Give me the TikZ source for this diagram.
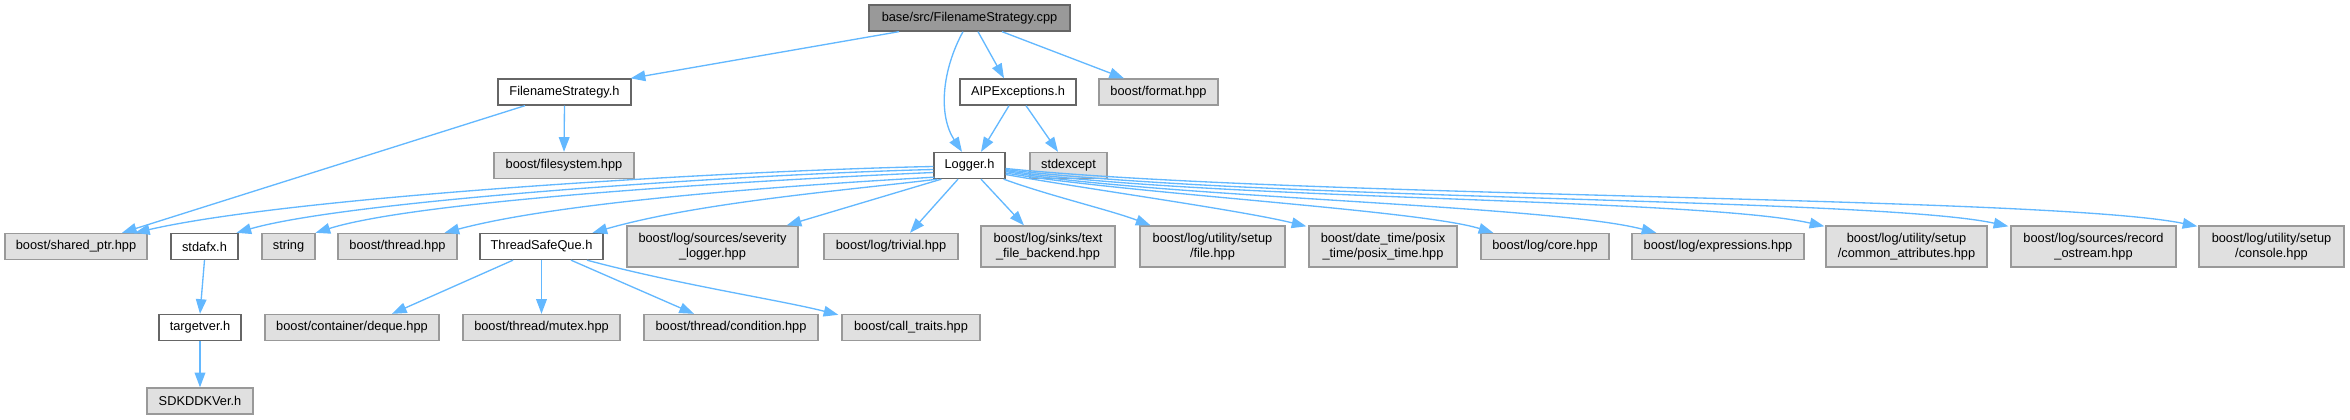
\documentclass[tikz,border=0pt]{standalone}
\usepackage{fontspec}
\setmainfont{Liberation Sans}
\usetikzlibrary{arrows.meta,calc}
\definecolor{edgec}{HTML}{63B8FF}
\definecolor{extfill}{HTML}{E0E0E0}
\definecolor{extdraw}{HTML}{999999}
\definecolor{intdraw}{HTML}{666666}
\definecolor{rootfill}{HTML}{999999}
\begin{document}
\begin{tikzpicture}[x=0.75pt,y=-0.75pt,
 box/.style={draw, line width=1pt, inner sep=0pt, align=center, font=\fontsize{9.6}{11.25}\selectfont, minimum height=19.5pt},
 ext/.style={box, draw=extdraw, fill=extfill},
 int/.style={box, draw=intdraw, fill=white},
 rootbox/.style={box, draw=intdraw, fill=rootfill},
 two/.style={minimum height=30.75pt},
 dep/.style={draw=edgec, line width=1pt, -{Triangle[length=11pt,width=8pt]}}]
\useasboundingbox (0,0) rectangle (2350,420);
% row 0
\node[rootbox, minimum width=150.75pt] (root) at (969.5,18) {base/src/FilenameStrategy.cpp};
% row 1
\node[int, minimum width=99.75pt] (fsh) at (564.5,92) {FilenameStrategy.h};
\node[int, minimum width=87pt] (aip) at (1018,92) {AIPExceptions.h};
\node[ext, minimum width=89.25pt] (fmt) at (1158.5,92) {boost/format.hpp};
% row 2
\node[ext, minimum width=105pt] (fs) at (564,165.5) {boost/filesystem.hpp};
\node[int, minimum width=53.25pt] (logger) at (969.5,165.5) {Logger.h};
\node[ext, minimum width=57.75pt] (stdexcept) at (1068.5,165.5) {stdexcept};
% row 3
\node[ext, minimum width=106.5pt] (shared) at (76,246.5) {boost/shared\_ptr.hpp};
\node[int, minimum width=50.25pt] (stdafx) at (204.5,246.5) {stdafx.h};
\node[ext, minimum width=39.75pt] (string) at (288.5,246.5) {string};
\node[ext, minimum width=89.25pt] (thread) at (397.5,246.5) {boost/thread.hpp};
\node[int, minimum width=92.25pt] (tsq) at (541.5,246.5) {ThreadSafeQue.h};
\node[ext, two, minimum width=128.25pt] (severity) at (712.5,246.5) {boost/log/sources/severity\\\_logger.hpp};
\node[ext, minimum width=100.5pt] (trivial) at (891,246.5) {boost/log/trivial.hpp};
\node[ext, two, minimum width=100.5pt] (textfile) at (1048,246.5) {boost/log/sinks/text\\\_file\_backend.hpp};
\node[ext, two, minimum width=108.75pt] (setupfile) at (1212.5,246.5) {boost/log/utility/setup\\/file.hpp};
\node[ext, two, minimum width=111pt] (posix) at (1383,246.5) {boost/date\_time/posix\\\_time/posix\_time.hpp};
\node[ext, minimum width=96pt] (core) at (1545,246.5) {boost/log/core.hpp};
\node[ext, minimum width=129pt] (expr) at (1718,246.5) {boost/log/expressions.hpp};
\node[ext, two, minimum width=120.75pt] (common) at (1906.5,246.5) {boost/log/utility/setup\\/common\_attributes.hpp};
\node[ext, two, minimum width=123.75pt] (record) at (2093.5,246.5) {boost/log/sources/record\\\_ostream.hpp};
\node[ext, two, minimum width=108.75pt] (console) at (2271.5,246.5) {boost/log/utility/setup\\/console.hpp};
% row 4
\node[int, minimum width=61.5pt] (targetver) at (200,327.5) {targetver.h};
\node[ext, minimum width=130.5pt] (deque) at (352,327.5) {boost/container/deque.hpp};
\node[ext, minimum width=117.75pt] (mutex) at (541.5,327.5) {boost/thread/mutex.hpp};
\node[ext, minimum width=130.5pt] (condition) at (731,327.5) {boost/thread/condition.hpp};
\node[ext, minimum width=103.5pt] (calltraits) at (911,327.5) {boost/call\_traits.hpp};
% row 5
\node[ext, minimum width=79.5pt] (sdk) at (200,401) {SDKDDKVer.h};

% edges from root
\draw[dep] ($(root.south)+(-70.5,0)$) -- ($(fsh.north east)+(-1,0)$);
\draw[dep] ($(root.south)+(-6.5,0)$) .. controls (942,70) and (938,115) .. ($(logger.north)+(-7.5,0)$);
\draw[dep] ($(root.south)+(8.5,0)$) -- ($(aip.north)+(-14,0)$);
\draw[dep] ($(root.south)+(32.5,0)$) -- ($(fmt.north)+(-34.5,0)$);
% FilenameStrategy.h
\draw[dep] (fsh.south) -- (fs.north);
\draw[dep] ($(fsh.south)+(-39.5,0)$) -- ($(shared.north)+(46,0)$);
% AIPExceptions.h
\draw[dep] ($(aip.south)+(-9,0)$) -- ($(logger.north)+(11.5,0)$);
\draw[dep] ($(aip.south)+(8,0)$) -- ($(stdexcept.north)+(-10.5,0)$);
% Logger.h left side
\draw[dep] ($(logger.west)+(0,1)$) .. controls (750,170) and (300,195) .. ($(shared.north)+(59,0)$);
\draw[dep] ($(logger.west)+(0,4)$) .. controls (750,174) and (350,200) .. ($(stdafx.north)+(32,0)$);
\draw[dep] ($(logger.west)+(0,7)$) .. controls (760,180) and (420,200) .. ($(string.north)+(27,0)$);
\draw[dep] ($(logger.south west)+(1,-2)$) .. controls (780,186) and (560,202) .. ($(thread.north)+(47,0)$);
\draw[dep] ($(logger.south west)+(4,0)$) .. controls (850,190) and (700,202) .. ($(tsq.north)+(51,0)$);
\draw[dep] ($(logger.south west)+(8,0)$) -- ($(severity.north east)+(-12,0)$);
% Logger.h bottom
\draw[dep] ($(logger.south)+(-11.5,0)$) -- ($(trivial.north)+(19,0)$);
\draw[dep] ($(logger.south)+(11.5,0)$) -- ($(textfile.north)+(-24,0)$);
% Logger.h right side
\draw[dep] ($(logger.south east)+(-2,0)$) .. controls (1050,196) and (1110,210) .. ($(setupfile.north)+(-62,0)$);
\draw[dep] ($(logger.east)+(0,9)$) .. controls (1080,188) and (1240,210) .. ($(posix.north west)+(-2,1)$);
\draw[dep] ($(logger.east)+(0,7.5)$) .. controls (1120,193) and (1420,210) .. ($(core.north west)+(13,0)$);
\draw[dep] ($(logger.east)+(0,6)$) .. controls (1150,197) and (1550,205) .. ($(expr.north west)+(25,0)$);
\draw[dep] ($(logger.east)+(0,5)$) .. controls (1200,200) and (1700,198) .. ($(common.north west)+(-1,1)$);
\draw[dep] ($(logger.east)+(0,4)$) .. controls (1250,200) and (1880,198) .. ($(record.north west)+(-2,1)$);
\draw[dep] ($(logger.east)+(0,3)$) .. controls (1300,198) and (2050,196) .. ($(console.north west)+(-1,1)$);
% stdafx chain
\draw[dep] (stdafx.south) -- (targetver.north);
\draw[dep] (targetver.south) -- (sdk.north);
% ThreadSafeQue.h
\draw[dep] ($(tsq.south)+(-28.5,0)$) -- ($(deque.north)+(40,0)$);
\draw[dep] (tsq.south) -- (mutex.north);
\draw[dep] ($(tsq.south)+(29.5,0)$) -- ($(condition.north)+(-37,0)$);
\draw[dep] ($(tsq.south)+(45.5,0)$) .. controls (680,285) and (780,300) .. ($(calltraits.north west)+(-3,1)$);
\end{tikzpicture}
\end{document}
